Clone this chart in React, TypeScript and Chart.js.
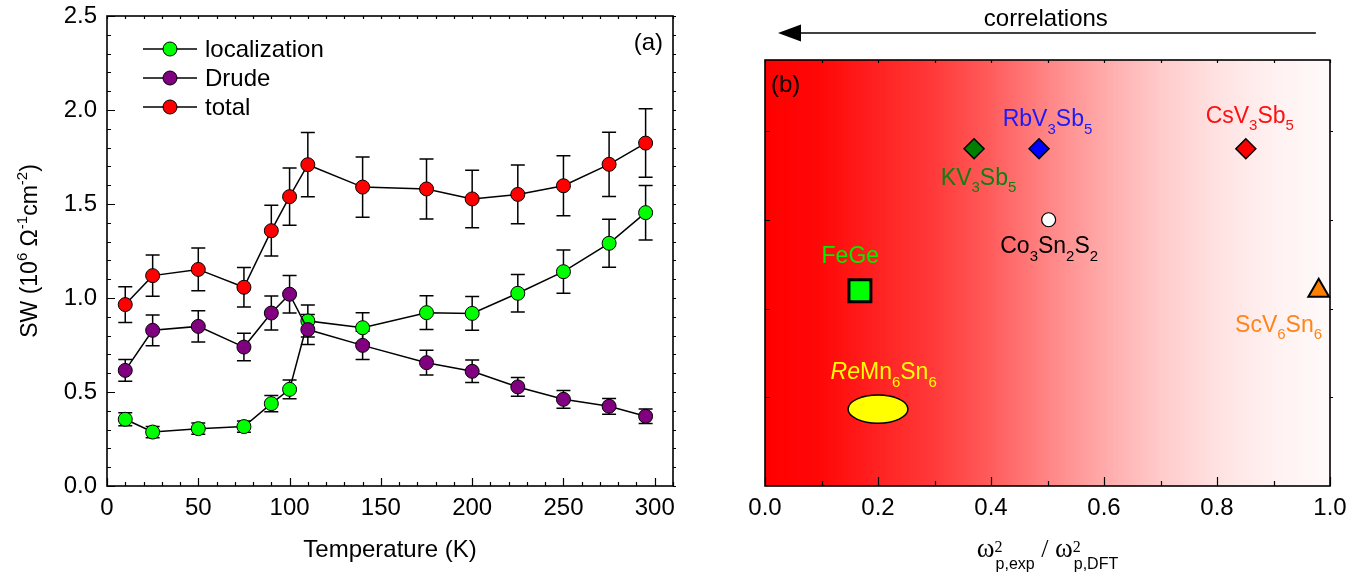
import React, { useEffect, useRef } from 'react';
import { Chart, registerables } from 'chart.js';

Chart.register(...registerables);

const SANS = '"Liberation Sans", Arial, Helvetica, sans-serif';
const SERIF = '"Liberation Serif", "DejaVu Serif", "Times New Roman", serif';
const FS = 24;

// ---------- Panel (a) data ----------
const temperatures = [10, 25, 50, 75, 90, 100, 110, 140, 175, 200, 225, 250, 275, 295];
const localization = [0.355, 0.287, 0.305, 0.316, 0.438, 0.514, 0.878, 0.842, 0.922, 0.918, 1.025, 1.14, 1.291, 1.454];
const localizationErr = [0.035, 0.03, 0.03, 0.03, 0.043, 0.05, 0.085, 0.08, 0.09, 0.09, 0.1, 0.115, 0.128, 0.145];
const drude = [0.615, 0.828, 0.849, 0.739, 0.92, 1.02, 0.832, 0.748, 0.656, 0.61, 0.527, 0.461, 0.424, 0.371];
const drudeErr = [0.058, 0.082, 0.083, 0.073, 0.09, 0.1, 0.08, 0.075, 0.066, 0.06, 0.05, 0.047, 0.042, 0.039];
const total = [0.965, 1.119, 1.152, 1.057, 1.358, 1.539, 1.709, 1.59, 1.58, 1.527, 1.551, 1.597, 1.711, 1.824];
const totalErr = [0.095, 0.11, 0.114, 0.105, 0.135, 0.152, 0.171, 0.16, 0.16, 0.153, 0.156, 0.16, 0.171, 0.182];
const seriesNames = ['localization', 'Drude', 'total'];
const seriesColors = ['#00ff00', '#800080', '#ff0000'];
const tempTicks = [0, 50, 100, 150, 200, 250, 300];
const swTicks = [0, 0.5, 1.0, 1.5, 2.0, 2.5];

// ---------- Panel (b) data ----------
const materials = ['KV3Sb5', 'RbV3Sb5', 'CsV3Sb5', 'Co3Sn2S2', 'FeGe', 'ScV6Sn6'];
const plasmaRatio = [0.37, 0.485, 0.851, 0.502, 0.168, 0.98];
const rowLevel = [3.8, 3.8, 3.8, 3.0, 2.2, 2.2];
const reMn6Sn6RatioRange = [0.147, 0.253];
const reMn6Sn6LevelRange = [0.707, 1.026];
const ratioTicks = [0, 0.2, 0.4, 0.6, 0.8, 1.0];
const levelTicks = [1, 2, 3, 4];

// marker styles (panel b)
const markerStyle = [
  { shape: 'rectRot', r: 10, fill: '#007f00', bw: 1.5 },
  { shape: 'rectRot', r: 10, fill: '#0000ff', bw: 1.5 },
  { shape: 'rectRot', r: 10, fill: '#ff0000', bw: 1.5 },
  { shape: 'circle', r: 7, fill: '#ffffff', bw: 1.2 },
  { shape: 'rect', r: 15.5, fill: '#00ff00', bw: 3 },
  { shape: 'triangle', r: 12, fill: '#ff7f00', bw: 2 },
];

type Seg = { t?: string; k?: 'sub' | 'sup'; it?: boolean; fam?: string; size?: number; sup?: string; sub?: string; supFam?: string; subFam?: string };

const materialText: Seg[][] = [
  [{ t: 'KV' }, { t: '3', k: 'sub' }, { t: 'Sb' }, { t: '5', k: 'sub' }],
  [{ t: 'RbV' }, { t: '3', k: 'sub' }, { t: 'Sb' }, { t: '5', k: 'sub' }],
  [{ t: 'CsV' }, { t: '3', k: 'sub' }, { t: 'Sb' }, { t: '5', k: 'sub' }],
  [{ t: 'Co' }, { t: '3', k: 'sub' }, { t: 'Sn' }, { t: '2', k: 'sub' }, { t: 'S' }, { t: '2', k: 'sub' }],
  [{ t: 'FeGe' }],
  [{ t: 'ScV' }, { t: '6', k: 'sub' }, { t: 'Sn' }, { t: '6', k: 'sub' }],
  [{ t: 'Re', it: true }, { t: 'Mn' }, { t: '6', k: 'sub' }, { t: 'Sn' }, { t: '6', k: 'sub' }],
];
const labelColors = ['#107f10', '#1a1aff', '#ff1010', '#000000', '#00ee00', '#ff8419', '#ffff00'];
const labelRatio = [0.378, 0.5, 0.858, 0.503, 0.151, 0.909, 0.21];
const labelLevel = [3.49, 4.15, 4.19, 2.72, 2.605, 1.835, 1.297];

// ---------- helpers ----------
function drawRich(ctx: CanvasRenderingContext2D, segs: Seg[], x: number, y: number, base: number, color: string, align: 'left' | 'center' | 'right' = 'center', fam = SANS) {
  const small = Math.round(base * 0.65);
  ctx.save();
  ctx.textBaseline = 'alphabetic';
  ctx.textAlign = 'left';
  ctx.fillStyle = color;
  const items = segs.map((s) => {
    if (s.sup !== undefined || s.sub !== undefined) {
      ctx.font = `${s.size || small}px ${s.supFam || fam}`;
      const w1 = s.sup ? ctx.measureText(s.sup).width : 0;
      ctx.font = `${s.size || small}px ${s.subFam || fam}`;
      const w2 = s.sub ? ctx.measureText(s.sub).width : 0;
      return { s, w: Math.max(w1, w2) + 1 };
    }
    const sz = s.size || (s.k ? small : base);
    ctx.font = `${s.it ? 'italic ' : ''}${sz}px ${s.fam || fam}`;
    return { s, w: ctx.measureText(s.t || '').width };
  });
  const tw = items.reduce((a, b) => a + b.w, 0);
  let cx = align === 'center' ? x - tw / 2 : align === 'right' ? x - tw : x;
  for (const { s, w } of items) {
    if (s.sup !== undefined || s.sub !== undefined) {
      if (s.sup) {
        ctx.font = `${s.size || small}px ${s.supFam || fam}`;
        ctx.fillText(s.sup, cx, y - base * 0.22);
      }
      if (s.sub) {
        ctx.font = `${s.size || small}px ${s.subFam || fam}`;
        ctx.fillText(s.sub, cx + 1, y + base * 0.5);
      }
    } else {
      const sz = s.size || (s.k ? small : base);
      ctx.font = `${s.it ? 'italic ' : ''}${sz}px ${s.fam || fam}`;
      const dy = s.k === 'sub' ? base * 0.33 : s.k === 'sup' ? -base * 0.42 : 0;
      ctx.fillText(s.t || '', cx, y + dy);
    }
    cx += w;
  }
  ctx.restore();
}

type TickSpec = { side: 'top' | 'bottom' | 'left' | 'right'; values: number[]; len: number; out?: boolean };

function steps(from: number, to: number, step: number): number[] {
  const out: number[] = [];
  const n = Math.round((to - from) / step);
  for (let i = 0; i <= n; i++) out.push(+(from + i * step).toFixed(6));
  return out;
}

function drawFrame(chart: any, specs: TickSpec[]) {
  const { ctx, chartArea: a, scales } = chart;
  ctx.save();
  ctx.strokeStyle = '#000';
  ctx.lineWidth = 1.2;
  ctx.beginPath();
  for (const sp of specs) {
    const horiz = sp.side === 'top' || sp.side === 'bottom';
    const sc = horiz ? scales.x : scales.y;
    for (const v of sp.values) {
      const p = Math.round(sc.getPixelForValue(v)) + 0.5;
      if (horiz) {
        const y0 = sp.side === 'bottom' ? a.bottom : a.top;
        const dir = (sp.side === 'bottom' ? -1 : 1) * (sp.out ? -1 : 1);
        ctx.moveTo(p, y0);
        ctx.lineTo(p, y0 + dir * sp.len);
      } else {
        const x0 = sp.side === 'left' ? a.left : a.right;
        const dir = (sp.side === 'left' ? 1 : -1) * (sp.out ? -1 : 1);
        ctx.moveTo(x0, p);
        ctx.lineTo(x0 + dir * sp.len, p);
      }
    }
  }
  ctx.stroke();
  ctx.lineWidth = 1.6;
  ctx.strokeRect(a.left, a.top, a.right - a.left, a.bottom - a.top);
  ctx.restore();
}

const noPadV = (s: any) => { s.paddingTop = 0; s.paddingBottom = 0; };
const noPadH = (s: any) => { s.paddingLeft = 0; s.paddingRight = 0; };

// ---------- Panel (a) ----------
function PanelA() {
  const ref = useRef<HTMLCanvasElement | null>(null);
  useEffect(() => {
    if (!ref.current) return;
    const values = [localization, drude, total];
    const errors = [localizationErr, drudeErr, totalErr];
    const datasets = values.map((vals, i) => ({
      label: seriesNames[i],
      data: temperatures.map((t, j) => ({ x: t, y: vals[j] })),
      borderColor: '#000',
      borderWidth: 1.5,
      pointBackgroundColor: seriesColors[i],
      pointBorderColor: '#000',
      pointBorderWidth: 1,
      pointRadius: 7,
      tension: 0,
      order: 3 - i,
    }));

    const errorPlugin = {
      id: 'errbars',
      beforeDatasetsDraw(chart: any) {
        const { ctx, scales } = chart;
        ctx.save();
        ctx.strokeStyle = '#000';
        ctx.lineWidth = 1.5;
        values.forEach((vals, i) => {
          vals.forEach((v, j) => {
            const x = scales.x.getPixelForValue(temperatures[j]);
            const yt = scales.y.getPixelForValue(v + errors[i][j]);
            const yb = scales.y.getPixelForValue(v - errors[i][j]);
            ctx.beginPath();
            ctx.moveTo(x, yt);
            ctx.lineTo(x, yb);
            ctx.moveTo(x - 7, yt);
            ctx.lineTo(x + 7, yt);
            ctx.moveTo(x - 7, yb);
            ctx.lineTo(x + 7, yb);
            ctx.stroke();
          });
        });
        ctx.restore();
      },
    };

    const decoPlugin = {
      id: 'decoA',
      afterDraw(chart: any) {
        const { ctx, chartArea: a } = chart;
        drawFrame(chart, [
          { side: 'bottom', values: steps(0, 310, 10).filter((v) => v % 50 !== 0), len: 4 },
          { side: 'bottom', values: tempTicks, len: 8 },
          { side: 'top', values: steps(0, 310, 10), len: 3 },
          { side: 'left', values: steps(0, 2.5, 0.1), len: 4 },
          { side: 'left', values: swTicks, len: 8 },
          { side: 'right', values: steps(0, 2.5, 0.1), len: 3, out: true },
        ]);
        // legend
        ctx.save();
        seriesNames.forEach((name, i) => {
          const y = a.top + 33 + i * 29;
          const x0 = a.left + 36;
          ctx.strokeStyle = '#000';
          ctx.lineWidth = 1.5;
          ctx.beginPath();
          ctx.moveTo(x0, y);
          ctx.lineTo(x0 + 54, y);
          ctx.stroke();
          ctx.beginPath();
          ctx.arc(x0 + 27, y, 7, 0, Math.PI * 2);
          ctx.fillStyle = seriesColors[i];
          ctx.fill();
          ctx.lineWidth = 1;
          ctx.stroke();
          ctx.fillStyle = '#000';
          ctx.font = `${FS}px ${SANS}`;
          ctx.textBaseline = 'middle';
          ctx.textAlign = 'left';
          ctx.fillText(name, x0 + 62, y + 1);
        });
        ctx.font = `${FS}px ${SANS}`;
        ctx.textAlign = 'right';
        ctx.textBaseline = 'alphabetic';
        ctx.fillText('(a)', a.right - 10, 50);
        // x title
        ctx.textAlign = 'center';
        ctx.fillText('Temperature (K)', (a.left + a.right) / 2, 557);
        ctx.restore();
        // y title
        ctx.save();
        ctx.translate(37, (a.top + a.bottom) / 2);
        ctx.rotate(-Math.PI / 2);
        drawRich(ctx, [
          { t: 'SW (10' }, { t: '6', k: 'sup' }, { t: ' \u03a9' }, { t: '-1', k: 'sup' }, { t: 'cm' }, { t: '-2', k: 'sup' }, { t: ')' },
        ], 0, 0, 23, '#000', 'center');
        ctx.restore();
      },
    };

    const chart = new Chart(ref.current, {
      type: 'line',
      data: { datasets: datasets as any },
      options: {
        responsive: false,
        animation: false,
        events: [],
        layout: { padding: { left: 0, top: 16, right: 27, bottom: 0 } },
        plugins: { legend: { display: false }, tooltip: { enabled: false } },
        scales: {
          x: {
            type: 'linear',
            min: 0,
            max: 310,
            grid: { display: false, drawTicks: false },
            border: { display: false },
            ticks: { stepSize: 50, includeBounds: false, color: '#000', padding: 8, font: { family: SANS, size: FS } },
            afterFit: (s: any) => { s.height = 96; noPadH(s); },
          },
          y: {
            min: 0,
            max: 2.5,
            grid: { display: false, drawTicks: false },
            border: { display: false },
            ticks: { stepSize: 0.5, color: '#000', padding: 10, font: { family: SANS, size: FS }, callback: (v: any) => Number(v).toFixed(1) },
            afterFit: (s: any) => { s.width = 107; noPadV(s); },
          },
        },
      },
      plugins: [errorPlugin, decoPlugin],
    });
    return () => chart.destroy();
  }, []);
  return <canvas ref={ref} width={700} height={582} style={{ position: 'absolute', left: 0, top: 0, width: 700, height: 582 }} />;
}

// ---------- Panel (b) ----------
function PanelB() {
  const ref = useRef<HTMLCanvasElement | null>(null);
  useEffect(() => {
    if (!ref.current) return;
    const datasets = materials.map((m, i) => ({
      label: m,
      data: [{ x: plasmaRatio[i], y: rowLevel[i] }],
      pointStyle: markerStyle[i].shape,
      pointRadius: markerStyle[i].r,
      pointBackgroundColor: markerStyle[i].fill,
      pointBorderColor: '#000',
      pointBorderWidth: markerStyle[i].bw,
      showLine: false,
      clip: false,
    }));

    const bgPlugin = {
      id: 'bgB',
      beforeDatasetsDraw(chart: any) {
        const { ctx, chartArea: a, scales } = chart;
        ctx.save();
        const g = ctx.createLinearGradient(a.left, 0, a.right, 0);
        const stops: [number, string][] = [
          [0, '#ff0000'], [0.1, '#ff0808'], [0.2, '#ff2222'], [0.3, '#ff3a3a'], [0.4, '#ff5c5c'],
          [0.5, '#ff8585'], [0.6, '#ffaaaa'], [0.7, '#ffcaca'], [0.8, '#ffe2e2'], [0.9, '#fff1f1'], [1, '#fffafa'],
        ];
        stops.forEach(([o, c]) => g.addColorStop(o, c));
        ctx.fillStyle = g;
        ctx.fillRect(a.left, a.top, a.right - a.left, a.bottom - a.top);
        // ReMn6Sn6 ellipse
        const x1 = scales.x.getPixelForValue(reMn6Sn6RatioRange[0]);
        const x2 = scales.x.getPixelForValue(reMn6Sn6RatioRange[1]);
        const y1 = scales.y.getPixelForValue(reMn6Sn6LevelRange[1]);
        const y2 = scales.y.getPixelForValue(reMn6Sn6LevelRange[0]);
        ctx.beginPath();
        ctx.ellipse((x1 + x2) / 2, (y1 + y2) / 2, (x2 - x1) / 2, (y2 - y1) / 2, 0, 0, Math.PI * 2);
        ctx.fillStyle = '#ffff00';
        ctx.fill();
        ctx.strokeStyle = '#000';
        ctx.lineWidth = 1.5;
        ctx.stroke();
        ctx.restore();
      },
      afterDatasetsDraw(chart: any) {
        const { ctx, scales } = chart;
        materialText.forEach((segs, i) => {
          const x = scales.x.getPixelForValue(labelRatio[i]);
          const y = scales.y.getPixelForValue(labelLevel[i]);
          drawRich(ctx, segs, x, y + 8.5, 23, labelColors[i], 'center');
        });
      },
      afterDraw(chart: any) {
        const { ctx, chartArea: a } = chart;
        const w = a.right - a.left;
        drawFrame(chart, [
          { side: 'bottom', values: steps(0, 1, 0.1), len: 5 },
          { side: 'bottom', values: ratioTicks, len: 9 },
          { side: 'top', values: steps(0, 1, 0.1), len: 3 },
          { side: 'left', values: levelTicks, len: 5 },
          { side: 'right', values: levelTicks, len: 3, out: true },
        ]);
        ctx.save();
        ctx.fillStyle = '#000';
        ctx.font = `${FS}px ${SANS}`;
        ctx.textAlign = 'left';
        ctx.textBaseline = 'alphabetic';
        ctx.fillText('(b)', a.left + 6, 92);
        // correlations arrow
        ctx.textAlign = 'center';
        ctx.fillText('correlations', a.left + 0.497 * w, 26);
        const ay = 33;
        const tip = a.left + 0.023 * w;
        ctx.strokeStyle = '#000';
        ctx.lineWidth = 1.5;
        ctx.beginPath();
        ctx.moveTo(a.left + 0.975 * w, ay);
        ctx.lineTo(tip + 20, ay);
        ctx.stroke();
        ctx.beginPath();
        ctx.moveTo(tip, ay);
        ctx.lineTo(tip + 23, ay - 8.5);
        ctx.lineTo(tip + 23, ay + 8.5);
        ctx.closePath();
        ctx.fill();
        ctx.restore();
        // x title
        drawRich(ctx, [
          { t: '\u03c9', fam: SERIF, size: 27 },
          { sup: '2', sub: 'p,exp', supFam: SERIF, subFam: SANS, size: 16 },
          { t: ' / ', fam: SERIF, size: 26 },
          { t: '\u03c9', fam: SERIF, size: 27 },
          { sup: '2', sub: 'p,DFT', supFam: SERIF, subFam: SANS, size: 16 },
        ], (a.left + a.right) / 2, 557, FS, '#000', 'center');
      },
    };

    const chart = new Chart(ref.current, {
      type: 'scatter',
      data: { datasets: datasets as any },
      options: {
        responsive: false,
        animation: false,
        events: [],
        layout: { padding: { left: 0, top: 60, right: 39, bottom: 0 } },
        plugins: { legend: { display: false }, tooltip: { enabled: false } },
        scales: {
          x: {
            type: 'linear',
            min: 0,
            max: 1,
            grid: { display: false, drawTicks: false },
            border: { display: false },
            ticks: { stepSize: 0.2, color: '#000', padding: 8, font: { family: SANS, size: FS }, callback: (v: any) => Number(v).toFixed(1) },
            afterFit: (s: any) => { s.height = 96; noPadH(s); },
          },
          y: {
            min: 0,
            max: 4.8,
            grid: { display: false, drawTicks: false },
            border: { display: false },
            ticks: { display: false, stepSize: 1 },
            afterFit: (s: any) => { s.width = 65; noPadV(s); },
          },
        },
      },
      plugins: [bgPlugin],
    });
    return () => chart.destroy();
  }, []);
  return <canvas ref={ref} width={669} height={582} style={{ position: 'absolute', left: 700, top: 0, width: 669, height: 582 }} />;
}

export default function App() {
  return (
    <div style={{ position: 'absolute', left: 0, top: 0, width: 1369, height: 582, background: '#fff', overflow: 'hidden' }}>
      <PanelA />
      <PanelB />
    </div>
  );
}
